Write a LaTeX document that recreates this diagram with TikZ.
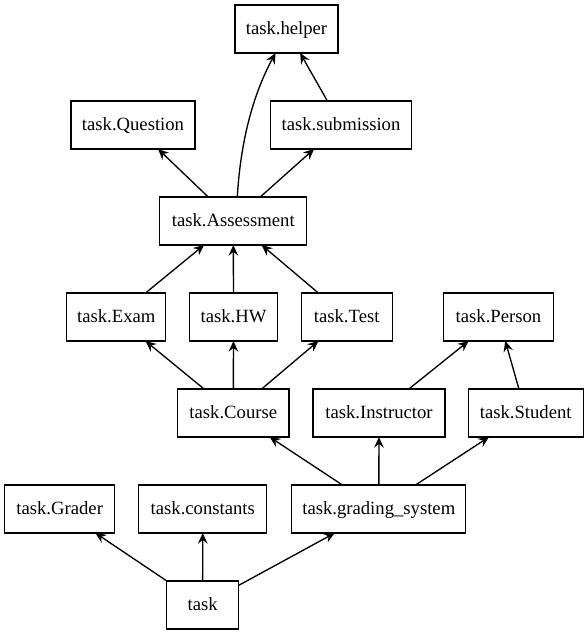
\documentclass[tikz,border=0pt]{standalone}
\usepackage{fontspec}
\setmainfont{Liberation Serif}
\newfontfamily\nodefont{Liberation Serif}
\usetikzlibrary{arrows.meta}
\begin{document}
\begin{tikzpicture}[x=0.75pt,y=-0.75pt,
  box/.style={draw,rectangle,line width=1pt,minimum height=36pt,inner sep=0pt,outer sep=0pt,text height=10pt,text depth=2pt,font=\nodefont\fontsize{14}{16}\selectfont},
  dep/.style={line width=1pt,-{Stealth[length=8pt,width=7.2pt,inset=2.8pt]}}]
\useasboundingbox (0,0) rectangle (588,635);
\node[box,minimum width=77.25pt] (helper) at (286.5,29) {task.helper};
\node[box,minimum width=93pt] (question) at (133,125) {task.Question};
\node[box,minimum width=105.75pt] (submission) at (341,125) {task.submission};
\node[box,minimum width=110.25pt] (assess) at (233.3,221) {task.Assessment};
\node[box,minimum width=74.25pt] (exam) at (116.3,317) {task.Exam};
\node[box,minimum width=66pt] (hw) at (233.5,317) {task.HW};
\node[box,minimum width=68.25pt] (test) at (346.7,317) {task.Test};
\node[box,minimum width=82.5pt] (person) at (498.5,317) {task.Person};
\node[box,minimum width=83.6pt] (course) at (233.3,413) {task.Course};
\node[box,minimum width=99pt] (instructor) at (379,413) {task.Instructor};
\node[box,minimum width=86.25pt] (student) at (525.7,413) {task.Student};
\node[box,minimum width=82.5pt] (grader) at (59.7,509) {task.Grader};
\node[box,minimum width=96pt] (constants) at (202.8,509) {task.constants};
\node[box,minimum width=130.5pt] (grading) at (378.8,509) {task.grading\_system};
\node[box,minimum width=54pt] (task) at (202.6,605) {task};

\draw[dep] (submission) -- (helper);
\draw[dep] ([xshift=3pt]assess.north) .. controls (240,150) and (250,100) .. ([xshift=-8.2pt]helper.south);
\draw[dep] (assess) -- (question);
\draw[dep] (assess) -- (submission);
\draw[dep] (exam) -- (assess);
\draw[dep] (hw) -- (assess);
\draw[dep] (test) -- (assess);
\draw[dep] (course) -- (exam);
\draw[dep] (course) -- (hw);
\draw[dep] (course) -- (test);
\draw[dep] (instructor) -- (person);
\draw[dep] (student) -- (person);
\draw[dep] (grading) -- (course);
\draw[dep] (grading) -- (instructor);
\draw[dep] (grading) -- (student);
\draw[dep] (task) -- (grader);
\draw[dep] (task) -- (constants);
\draw[dep] (task) -- (grading);
\end{tikzpicture}
\end{document}
